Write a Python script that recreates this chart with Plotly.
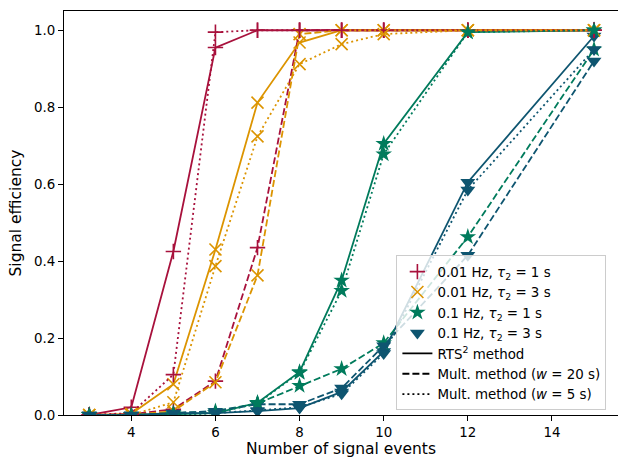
import plotly.graph_objects as go

# Number of injected signal events
n_events = [3, 4, 5, 6, 7, 8, 9, 10, 12, 15]

# Signal efficiency, one list per configuration and method
eff_f001_t1_rts = [0.0, 0.02, 0.425, 0.955, 1.0, 1.0, 1.0, 1.0, 1.0, 1.0]
eff_f001_t1_w20 = [0.0, 0.002, 0.015, 0.088, 0.435, 1.0, 1.0, 1.0, 1.0, 1.0]
eff_f001_t1_w5 = [0.0, 0.005, 0.105, 0.995, 1.0, 1.0, 1.0, 1.0, 1.0, 1.0]

eff_f001_t3_rts = [0.0, 0.003, 0.08, 0.43, 0.812, 0.968, 1.0, 1.0, 1.0, 1.0]
eff_f001_t3_w20 = [0.0, 0.0, 0.01, 0.085, 0.363, 0.99, 1.0, 1.0, 1.0, 1.0]
eff_f001_t3_w5 = [0.0, 0.0, 0.033, 0.387, 0.724, 0.912, 0.964, 0.99, 1.0, 1.0]

eff_f01_t1_rts = [0.0, 0.0, 0.002, 0.005, 0.032, 0.112, 0.35, 0.705, 0.995, 1.0]
eff_f01_t1_w20 = [0.0, 0.0, 0.005, 0.01, 0.03, 0.076, 0.12, 0.187, 0.463, 0.95]
eff_f01_t1_w5 = [0.0, 0.0, 0.0, 0.005, 0.03, 0.11, 0.323, 0.678, 0.995, 1.0]

eff_f01_t3_rts = [0.0, 0.0, 0.005, 0.005, 0.01, 0.018, 0.06, 0.165, 0.605, 0.985]
eff_f01_t3_w20 = [0.0, 0.0, 0.005, 0.01, 0.028, 0.028, 0.07, 0.18, 0.415, 0.92]
eff_f01_t3_w5 = [0.0, 0.0, 0.003, 0.005, 0.012, 0.02, 0.055, 0.16, 0.585, 0.95]

config_labels = [
    "0.01 Hz, <i>τ</i><sub>2</sub> = 1 s",
    "0.01 Hz, <i>τ</i><sub>2</sub> = 3 s",
    "0.1 Hz, <i>τ</i><sub>2</sub> = 1 s",
    "0.1 Hz, <i>τ</i><sub>2</sub> = 3 s",
]
method_labels = [
    "RTS<sup>2</sup> method",
    "Mult. method (<i>w</i> = 20 s)",
    "Mult. method (<i>w</i> = 5 s)",
]

colors = ["#a8113c", "#dc9400", "#007b5c", "#0e5570"]
symbols = ["cross-thin", "x-thin", "star", "triangle-down"]
marker_sizes = [11, 12, 12.5, 13]
dashes = ["solid", "7px,3px", "2px,3px"]

series = {
    0: [eff_f001_t1_rts, eff_f001_t3_rts, eff_f01_t1_rts, eff_f01_t3_rts],
    1: [eff_f001_t1_w20, eff_f001_t3_w20, eff_f01_t1_w20, eff_f01_t3_w20],
    2: [eff_f001_t1_w5, eff_f001_t3_w5, eff_f01_t1_w5, eff_f01_t3_w5],
}


def marker_style(i):
    thin = symbols[i] in ("cross-thin", "x-thin")
    return dict(
        symbol=symbols[i],
        size=marker_sizes[i],
        color=colors[i],
        line=dict(width=1.6 if thin else 0, color=colors[i]),
    )


fig = go.Figure()

for m in range(3):
    for i in range(4):
        fig.add_trace(go.Scatter(
            x=n_events, y=series[m][i], mode="lines+markers",
            line=dict(color=colors[i], width=1.8, dash=dashes[m]),
            marker=marker_style(i), showlegend=False,
        ))

# Legend entries: configurations by marker, methods by line style
for i in range(4):
    fig.add_trace(go.Scatter(
        x=[None], y=[None], mode="markers", marker=marker_style(i),
        name=config_labels[i],
    ))
for m in range(3):
    fig.add_trace(go.Scatter(
        x=[None], y=[None], mode="lines",
        line=dict(color="black", width=1.8, dash=dashes[m]),
        name=method_labels[m],
    ))

fig.update_layout(
    width=618, height=458,
    margin=dict(l=63.5, r=0, t=10.5, b=43),
    paper_bgcolor="white", plot_bgcolor="white",
    font=dict(family="DejaVu Sans", size=13.4, color="black"),
    showlegend=True,
    legend=dict(
        x=0.6, y=0.395, xanchor="left", yanchor="top",
        bgcolor="rgba(255,255,255,0.8)", bordercolor="#cccccc", borderwidth=1,
        font=dict(size=13.4), itemwidth=30,
    ),
)
fig.update_xaxes(
    range=[2.4, 15.57], tickvals=[4, 6, 8, 10, 12, 14],
    showline=True, linecolor="black", linewidth=1, mirror=True,
    ticks="outside", ticklen=5, tickcolor="black", showgrid=False, zeroline=False,
    title=dict(text="Number of signal events", font=dict(size=15.5), standoff=6),
)
fig.update_yaxes(
    range=[0, 1.05], tickvals=[0, 0.2, 0.4, 0.6, 0.8, 1.0], tickformat=".1f",
    showline=True, linecolor="black", linewidth=1,
    ticks="outside", ticklen=5, tickcolor="black", showgrid=False, zeroline=False,
    title=dict(text="Signal efficiency", font=dict(size=15.5), standoff=8),
)

fig.write_html("out.html")
